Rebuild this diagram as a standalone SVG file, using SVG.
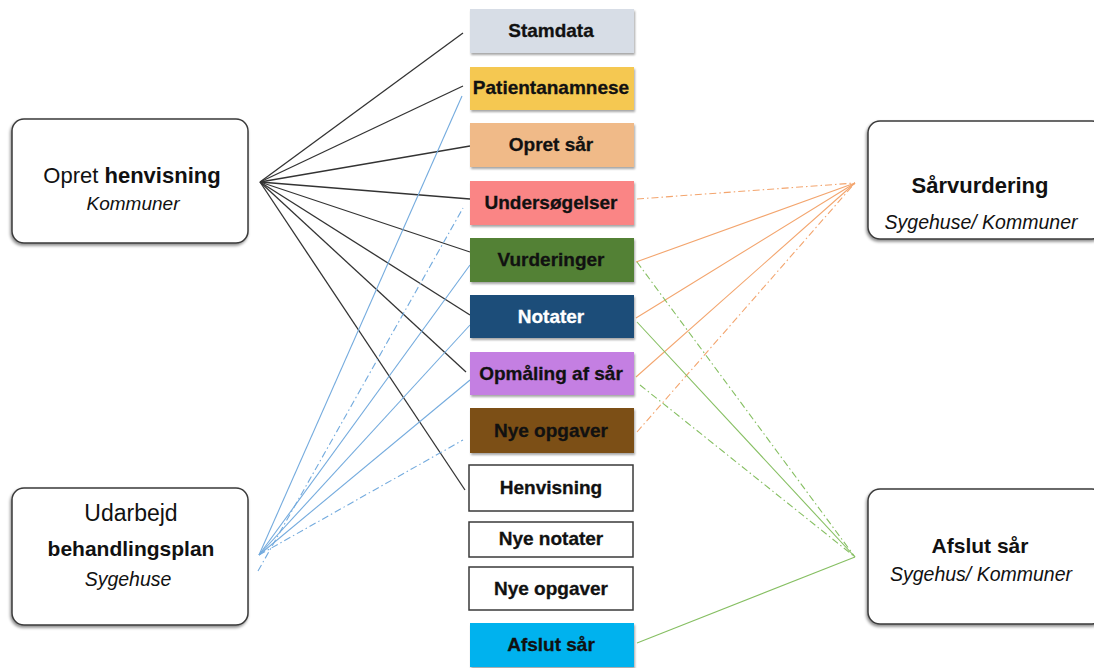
<svg xmlns="http://www.w3.org/2000/svg" width="1094" height="668" viewBox="0 0 1094 668">
  <defs>
    <filter id="shadow" x="-10%" y="-10%" width="130%" height="140%">
      <feDropShadow dx="1" dy="2" stdDeviation="1.2" flood-color="#000" flood-opacity="0.35"/>
    </filter>
    <filter id="bigShadow" x="-10%" y="-10%" width="130%" height="130%">
      <feDropShadow dx="-1" dy="2" stdDeviation="1.5" flood-color="#000" flood-opacity="0.45"/>
    </filter>
  </defs>
  <style>
    .big { fill: #ffffff; stroke: #3a3a3a; stroke-width: 1.5; }
    .step { stroke: none; }
    .plain { fill: #ffffff; stroke: #3a3a3a; stroke-width: 1.5; }
    .t { font-family: "Liberation Sans", Arial, sans-serif; text-anchor: middle; fill: #111; }
    .lbl { font-family: "Liberation Sans", Arial, sans-serif; font-weight: bold; font-size: 19px; text-anchor: middle; color: #111; fill: currentColor; stroke: currentColor; stroke-width: 0.3; }
    .light { color: #ffffff; }
    .blk { stroke: #333333; stroke-width: 1.3; fill: none; }
    .blu { stroke: #74abde; stroke-width: 1.1; fill: none; }
    .org { stroke: #f3a56e; stroke-width: 1.1; fill: none; }
    .grn { stroke: #86bf62; stroke-width: 1.1; fill: none; }
    .dd { stroke-dasharray: 7 3 1.5 3; }
  </style>

  <!-- connectors -->
  <g id="connectors">
    <!-- Opret henvisning -->
    <line class="blk" x1="260" y1="182" x2="463" y2="33"/>
    <line class="blk" x1="260" y1="182" x2="463" y2="86"/>
    <line class="blk" x1="260" y1="182" x2="470" y2="146"/>
    <line class="blk" x1="260" y1="182" x2="470" y2="199"/>
    <line class="blk" x1="260" y1="182" x2="470" y2="252"/>
    <line class="blk" x1="260" y1="182" x2="470" y2="315"/>
    <line class="blk" x1="260" y1="182" x2="466" y2="372"/>
    <line class="blk" x1="260" y1="182" x2="465" y2="490"/>
    <!-- Udarbejd behandlingsplan -->
    <line class="blu" x1="259" y1="555" x2="462" y2="96"/>
    <line class="blu dd" x1="258" y1="571" x2="463" y2="208"/>
    <line class="blu" x1="259" y1="555" x2="470" y2="265"/>
    <line class="blu" x1="259" y1="555" x2="470" y2="325"/>
    <line class="blu" x1="259" y1="555" x2="470" y2="380"/>
    <line class="blu dd" x1="259" y1="555" x2="463" y2="440"/>
    <!-- Sårvurdering -->
    <line class="org dd" x1="637" y1="199" x2="855" y2="183"/>
    <line class="org" x1="636" y1="262" x2="855" y2="183"/>
    <line class="org" x1="636" y1="318" x2="855" y2="183"/>
    <line class="org" x1="636" y1="377" x2="855" y2="183"/>
    <line class="org dd" x1="637" y1="432" x2="855" y2="183"/>
    <!-- Afslut sår -->
    <line class="grn dd" x1="637" y1="262" x2="855" y2="557"/>
    <line class="grn" x1="637" y1="322" x2="855" y2="557"/>
    <line class="grn dd" x1="640" y1="385" x2="855" y2="557"/>
    <line class="grn" x1="637" y1="643" x2="855" y2="557"/>
  </g>

  <!-- actor boxes -->
  <g id="opret-henvisning">
    <rect class="big" x="12" y="119" width="236" height="124" rx="12" filter="url(#bigShadow)"/>
    <text class="t" x="132" y="183" font-size="22">Opret <tspan font-weight="bold">henvisning</tspan></text>
    <text class="t" x="133" y="210" font-size="19" font-style="italic">Kommuner</text>
  </g>
  <g id="udarbejd-behandlingsplan">
    <rect class="big" x="12" y="488" width="236" height="137" rx="12" filter="url(#bigShadow)"/>
    <text class="t" x="131" y="521" font-size="23">Udarbejd</text>
    <text class="t" x="131" y="556" font-size="21" font-weight="bold">behandlingsplan</text>
    <text class="t" x="128" y="586" font-size="19.5" font-style="italic">Sygehuse</text>
  </g>
  <g id="saarvurdering">
    <rect class="big" x="868" y="121" width="236" height="118" rx="12" filter="url(#bigShadow)"/>
    <text class="t" x="980" y="193" font-size="22" font-weight="bold">Sårvurdering</text>
    <text class="t" x="981" y="229" font-size="19.5" font-style="italic">Sygehuse/ Kommuner</text>
  </g>
  <g id="afslut-saar-actor">
    <rect class="big" x="868" y="489" width="236" height="135" rx="12" filter="url(#bigShadow)"/>
    <text class="t" x="980" y="553" font-size="21" font-weight="bold">Afslut sår</text>
    <text class="t" x="981" y="581" font-size="19.5" font-style="italic">Sygehus/ Kommuner</text>
  </g>

  <!-- process steps -->
  <g id="stamdata">
    <rect class="step" x="470" y="9" width="164" height="44" fill="#d7dde6" filter="url(#shadow)"/>
    <text class="lbl" x="551" y="37" font-size="20">Stamdata</text>
  </g>
  <g id="patientanamnese">
    <rect class="step" x="470" y="67" width="164" height="43" fill="#f5c851" filter="url(#shadow)"/>
    <text class="lbl" x="551" y="94" font-size="17.5">Patientanamnese</text>
  </g>
  <g id="opret-saar">
    <rect class="step" x="470" y="123" width="164" height="44" fill="#f0ba88" filter="url(#shadow)"/>
    <text class="lbl" x="551" y="151">Opret sår</text>
  </g>
  <g id="undersoegelser">
    <rect class="step" x="470" y="181" width="164" height="44" fill="#fa8585" filter="url(#shadow)"/>
    <text class="lbl" x="551" y="209" font-size="18">Undersøgelser</text>
  </g>
  <g id="vurderinger">
    <rect class="step" x="470" y="238" width="164" height="44" fill="#538135" filter="url(#shadow)"/>
    <text class="lbl" x="551" y="266" font-size="20">Vurderinger</text>
  </g>
  <g id="notater">
    <rect class="step" x="470" y="295" width="164" height="43" fill="#1f4e79" filter="url(#shadow)"/>
    <text class="lbl light" x="551" y="323" font-size="20">Notater</text>
  </g>
  <g id="opmaaling">
    <rect class="step" x="470" y="352" width="164" height="43" fill="#c47fe2" filter="url(#shadow)"/>
    <text class="lbl" x="551" y="380" font-size="19.5">Opmåling af sår</text>
  </g>
  <g id="nye-opgaver-1">
    <rect class="step" x="470" y="408" width="164" height="45" fill="#7c5018" filter="url(#shadow)"/>
    <text class="lbl" x="551" y="437" font-size="20">Nye opgaver</text>
  </g>
  <g id="henvisning">
    <rect class="plain" x="469" y="465" width="164" height="46"/>
    <text class="lbl" x="551" y="494">Henvisning</text>
  </g>
  <g id="nye-notater">
    <rect class="plain" x="469" y="522" width="164" height="35"/>
    <text class="lbl" x="551" y="545" font-size="17.5">Nye notater</text>
  </g>
  <g id="nye-opgaver-2">
    <rect class="plain" x="469" y="567" width="164" height="43"/>
    <text class="lbl" x="551" y="595">Nye opgaver</text>
  </g>
  <g id="afslut-saar">
    <rect class="step" x="470" y="623" width="164" height="44" fill="#00b2ee" filter="url(#shadow)"/>
    <text class="lbl" x="551" y="651">Afslut sår</text>
  </g>
</svg>
